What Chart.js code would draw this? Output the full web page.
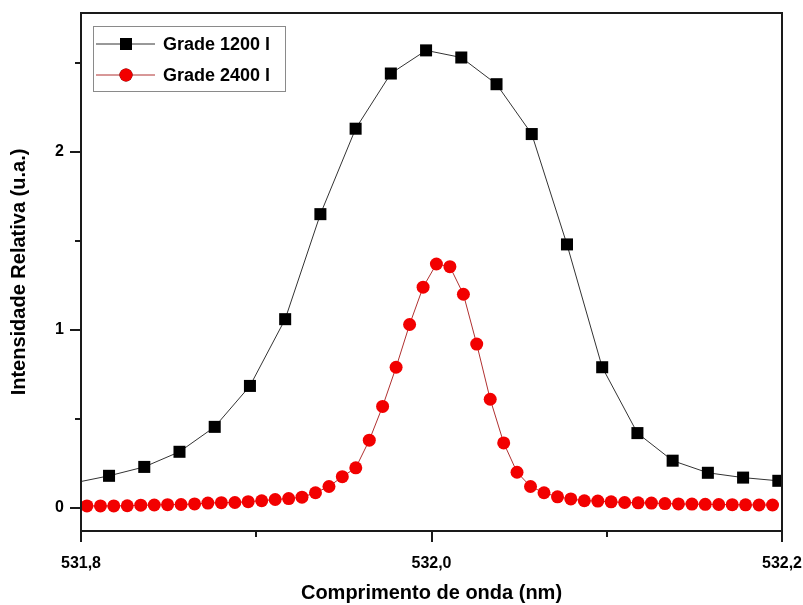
<!DOCTYPE html>
<html>
<head>
<meta charset="utf-8">
<script src="https://cdn.jsdelivr.net/npm/chart.js"></script>
<style>
  html, body { margin: 0; padding: 0; background: #fff; }
  #spectrum { display: block; }
</style>
</head>
<body>
<canvas id="spectrum" width="803" height="605"></canvas>
<script>
// Grade 1200 l (first and last points lie just outside the visible range)
const grade1200X = [531.7959, 531.816, 531.8361, 531.8562, 531.8763, 531.8964, 531.9165, 531.9366,
    531.9567, 531.9768, 531.9969, 532.017, 532.0371, 532.0572, 532.0773, 532.0974,
    532.1175, 532.1376, 532.1577, 532.1778, 532.1979, 532.218];
const grade1200Y = [0.14, 0.18, 0.23, 0.315, 0.455, 0.685, 1.06, 1.65,
    2.13, 2.44, 2.57, 2.53, 2.38, 2.10, 1.48, 0.79,
    0.42, 0.265, 0.197, 0.17, 0.152, 0.135];

// Grade 2400 l
const grade2400X = [531.8034, 531.8111, 531.8187, 531.8264, 531.8341, 531.8418, 531.8494, 531.8571,
    531.8648, 531.8724, 531.8801, 531.8878, 531.8954, 531.9031, 531.9108, 531.9185,
    531.9261, 531.9338, 531.9415, 531.9491, 531.9568, 531.9645, 531.9721, 531.9798,
    531.9875, 531.9952, 532.0028, 532.0105, 532.0182, 532.0258, 532.0335, 532.0412,
    532.0488, 532.0565, 532.0642, 532.0719, 532.0795, 532.0872, 532.0949, 532.1025,
    532.1102, 532.1179, 532.1255, 532.1332, 532.1409, 532.1486, 532.1562, 532.1639,
    532.1716, 532.1792, 532.1869, 532.1946];
const grade2400Y = [0.011, 0.011, 0.011, 0.012, 0.015, 0.016, 0.018, 0.019,
    0.022, 0.027, 0.029, 0.030, 0.035, 0.040, 0.047, 0.052,
    0.060, 0.085, 0.120, 0.175, 0.225, 0.38, 0.57, 0.79,
    1.03, 1.24, 1.37, 1.355, 1.20, 0.92, 0.61, 0.365,
    0.20, 0.12, 0.085, 0.062, 0.05, 0.04, 0.038, 0.034,
    0.03, 0.028, 0.027, 0.024, 0.022, 0.021, 0.02, 0.019,
    0.018, 0.017, 0.016, 0.016];

// Tick labels
const xTickValues = [531.8, 532.0, 532.2];
const xTickLabels = ['531,8', '532,0', '532,2'];
const yTickValues = [0, 1, 2];
const yTickLabels = ['0', '1', '2'];

const FONT = "'Liberation Sans', Arial, sans-serif";

function toPoints(xs, ys) {
    return xs.map((x, i) => ({ x: x, y: ys[i] }));
}

function labelFor(value, values, labels) {
    const i = values.findIndex(v => Math.abs(v - value) < 1e-6);
    return i >= 0 ? labels[i] : '';
}

// Frame around the plot + outward tick marks (major longer than minor)
const frameAndTicks = {
    id: 'frameAndTicks',
    afterDraw(chart) {
        const { ctx, chartArea: a, scales } = chart;
        ctx.save();
        ctx.strokeStyle = '#1a1a1a';
        ctx.lineWidth = 2;
        ctx.strokeRect(a.left, a.top, a.right - a.left, a.bottom - a.top);

        ctx.beginPath();
        scales.x.ticks.forEach(t => {
            const px = Math.round(scales.x.getPixelForValue(t.value));
            const major = labelFor(t.value, xTickValues, xTickLabels) !== '';
            ctx.moveTo(px, a.bottom);
            ctx.lineTo(px, a.bottom + (major ? 11 : 6));
        });
        scales.y.ticks.forEach(t => {
            const py = Math.round(scales.y.getPixelForValue(t.value));
            const major = labelFor(t.value, yTickValues, yTickLabels) !== '';
            ctx.moveTo(a.left, py);
            ctx.lineTo(a.left - (major ? 11 : 6), py);
        });
        ctx.stroke();
        ctx.restore();
    }
};

// Legend box in the top left corner of the plot
const boxLegend = {
    id: 'boxLegend',
    afterDraw(chart) {
        const { ctx } = chart;
        const box = { x: 93, y: 26, w: 192, h: 65 };
        ctx.save();
        ctx.fillStyle = '#fff';
        ctx.fillRect(box.x, box.y, box.w, box.h);
        ctx.strokeStyle = '#8a8a8a';
        ctx.lineWidth = 1;
        ctx.strokeRect(box.x + 0.5, box.y + 0.5, box.w, box.h);

        chart.data.datasets.forEach((ds, i) => {
            const cy = 44 + i * 31;
            ctx.strokeStyle = ds.borderColor;
            ctx.lineWidth = 1;
            ctx.beginPath();
            ctx.moveTo(96, cy);
            ctx.lineTo(155, cy);
            ctx.stroke();
            Chart.helpers.drawPoint(ctx, {
                pointStyle: ds.pointStyle,
                radius: ds.pointRadius,
                borderWidth: 0
            }, 126, cy);
            ctx.fillStyle = ds.pointBackgroundColor;
            ctx.fill();
            ctx.fillStyle = '#000';
            ctx.font = 'bold 18px ' + FONT;
            ctx.textBaseline = 'middle';
            ctx.textAlign = 'left';
            ctx.fillText(ds.label, 163, cy + 1);
        });
        ctx.restore();
    }
};

const chart = new Chart(document.getElementById('spectrum'), {
    type: 'scatter',
    data: {
        datasets: [{
            label: 'Grade 1200 l',
            data: toPoints(grade1200X, grade1200Y),
            showLine: true,
            borderColor: '#333333',
            borderWidth: 1,
            pointStyle: 'rect',
            pointRadius: 8.5,
            pointBorderWidth: 0,
            pointBackgroundColor: '#000000',
            pointBorderColor: '#000000'
        }, {
            label: 'Grade 2400 l',
            data: toPoints(grade2400X, grade2400Y),
            showLine: true,
            borderColor: '#b03030',
            borderWidth: 1,
            pointStyle: 'circle',
            pointRadius: 6.5,
            pointBorderWidth: 0,
            pointBackgroundColor: '#f20000',
            pointBorderColor: '#f20000'
        }]
    },
    options: {
        responsive: false,
        animation: false,
        layout: { padding: { left: 0, right: 21, top: 13, bottom: 0 } },
        plugins: {
            legend: { display: false },
            tooltip: { enabled: false }
        },
        scales: {
            x: {
                type: 'linear',
                min: 531.8,
                max: 532.2,
                grid: { display: false, drawTicks: false },
                border: { display: false },
                ticks: {
                    stepSize: 0.1,
                    includeBounds: false,
                    autoSkip: false,
                    maxRotation: 0,
                    padding: 23,
                    color: '#000',
                    font: { family: FONT, size: 16, weight: 'bold' },
                    callback: v => labelFor(v, xTickValues, xTickLabels)
                },
                title: {
                    display: true,
                    text: 'Comprimento de onda (nm)',
                    color: '#000',
                    font: { family: FONT, size: 20, weight: 'bold' },
                    padding: { top: 0, bottom: 0 }
                },
                afterFit: scale => {
                    scale.height = 74;
                    scale.paddingLeft = 0;
                    scale.paddingRight = 0;
                }
            },
            y: {
                min: -0.13,
                max: 2.78,
                grid: { display: false, drawTicks: false },
                border: { display: false },
                ticks: {
                    stepSize: 0.5,
                    includeBounds: false,
                    padding: 17,
                    color: '#000',
                    font: { family: FONT, size: 16, weight: 'bold' },
                    callback: v => labelFor(v, yTickValues, yTickLabels)
                },
                title: {
                    display: true,
                    text: 'Intensidade Relativa (u.a.)',
                    color: '#000',
                    font: { family: FONT, size: 20, weight: 'bold' },
                    padding: { top: 7, bottom: 0 }
                },
                afterFit: scale => {
                    scale.width = 81;
                    scale.paddingTop = 0;
                    scale.paddingBottom = 0;
                }
            }
        }
    },
    plugins: [frameAndTicks, boxLegend]
});
</script>
</body>
</html>
